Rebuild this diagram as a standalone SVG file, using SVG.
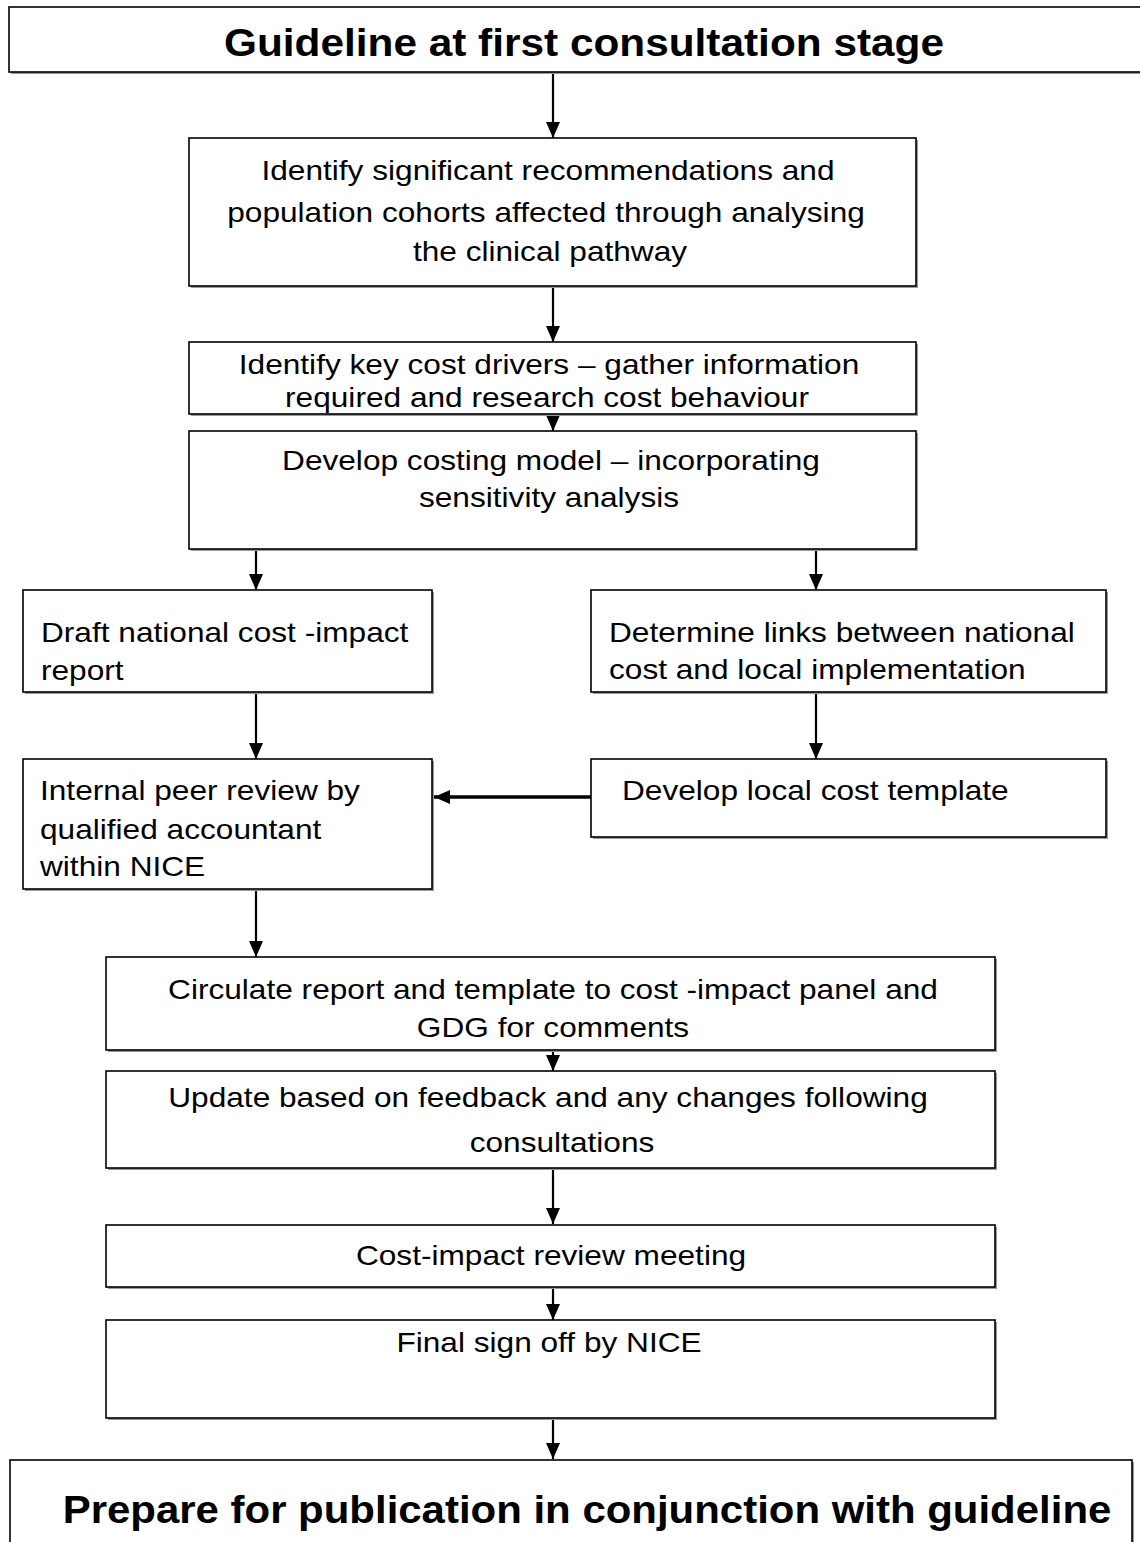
<svg xmlns="http://www.w3.org/2000/svg" width="1140" height="1542" viewBox="0 0 1140 1542">
<defs>
<style>
.box{fill:#fff;stroke:#000;stroke-width:1.6}
.sh{fill:#9a9a9a}
.t{font-family:"Liberation Sans",Arial,sans-serif;font-size:28px;fill:#000}
.c{text-anchor:middle}
.h{font-family:"Liberation Sans",Arial,sans-serif;font-size:38.5px;font-weight:bold;fill:#000;text-anchor:middle}
.ln{stroke:#000;stroke-width:2.2;fill:none}
.lnt{stroke:#000;stroke-width:3.5;fill:none}
</style>
<marker id="ah" viewBox="0 0 16 14" refX="16" refY="7" markerWidth="16" markerHeight="14" orient="auto" markerUnits="userSpaceOnUse">
<path d="M0,0 L16,7 L0,14 z" fill="#000"/>
</marker>
</defs>
<rect width="1140" height="1542" fill="#fff"/>

<g id="connectors">
<line class="ln" x1="553" y1="72" x2="553" y2="138" marker-end="url(#ah)"/>
<line class="ln" x1="553" y1="286" x2="553" y2="342" marker-end="url(#ah)"/>
<line class="ln" x1="553" y1="414" x2="553" y2="431" marker-end="url(#ah)"/>
<line class="ln" x1="256" y1="549" x2="256" y2="590" marker-end="url(#ah)"/>
<line class="ln" x1="816" y1="549" x2="816" y2="590" marker-end="url(#ah)"/>
<line class="ln" x1="256" y1="692" x2="256" y2="759" marker-end="url(#ah)"/>
<line class="ln" x1="816" y1="692" x2="816" y2="759" marker-end="url(#ah)"/>
<line class="lnt" x1="591" y1="797" x2="434" y2="797" marker-end="url(#ah)"/>
<line class="ln" x1="256" y1="889" x2="256" y2="957" marker-end="url(#ah)"/>
<line class="ln" x1="553" y1="1050" x2="553" y2="1071" marker-end="url(#ah)"/>
<line class="ln" x1="553" y1="1168" x2="553" y2="1224" marker-end="url(#ah)"/>
<line class="ln" x1="553" y1="1287" x2="553" y2="1320" marker-end="url(#ah)"/>
<line class="ln" x1="553" y1="1418" x2="553" y2="1459" marker-end="url(#ah)"/>
</g>

<g id="n1">
<rect class="sh" x="11" y="9" width="1141" height="65"/>
<rect class="box" x="9" y="7" width="1141" height="65"/>
<text class="h" transform="matrix(1.1 0 0 1 584 56)">Guideline at first consultation stage</text>
</g>

<g id="n2">
<rect class="sh" x="191" y="140" width="727" height="148"/>
<rect class="box" x="189" y="138" width="727" height="148"/>
<text class="t c" transform="matrix(1.13 0 0 1 548 180)">Identify significant recommendations and</text>
<text class="t c" transform="matrix(1.13 0 0 1 546 222)">population cohorts affected through analysing</text>
<text class="t c" transform="matrix(1.13 0 0 1 550 261)">the clinical pathway</text>
</g>

<g id="n3">
<rect class="sh" x="191" y="344" width="727" height="72"/>
<rect class="box" x="189" y="342" width="727" height="72"/>
<text class="t c" transform="matrix(1.13 0 0 1 549 374)">Identify key cost drivers  – gather information</text>
<text class="t c" transform="matrix(1.13 0 0 1 547 407)">required and research cost behaviour</text>
</g>

<g id="n4">
<rect class="sh" x="191" y="433" width="727" height="118"/>
<rect class="box" x="189" y="431" width="727" height="118"/>
<text class="t c" transform="matrix(1.13 0 0 1 551 470)">Develop costing model  – incorporating</text>
<text class="t c" transform="matrix(1.13 0 0 1 549 507)">sensitivity analysis</text>
</g>

<g id="n5">
<rect class="sh" x="25" y="592" width="409" height="102"/>
<rect class="box" x="23" y="590" width="409" height="102"/>
<text class="t" transform="matrix(1.13 0 0 1 41 642)">Draft national cost -impact</text>
<text class="t" transform="matrix(1.13 0 0 1 41 680)">report</text>
</g>

<g id="n6">
<rect class="sh" x="593" y="592" width="515" height="102"/>
<rect class="box" x="591" y="590" width="515" height="102"/>
<text class="t" transform="matrix(1.13 0 0 1 609 642)">Determine links between national</text>
<text class="t" transform="matrix(1.13 0 0 1 609 679)">cost and local implementation</text>
</g>

<g id="n7">
<rect class="sh" x="25" y="761" width="409" height="130"/>
<rect class="box" x="23" y="759" width="409" height="130"/>
<text class="t" transform="matrix(1.13 0 0 1 40 800)">Internal peer review by</text>
<text class="t" transform="matrix(1.13 0 0 1 40 839)">qualified accountant</text>
<text class="t" transform="matrix(1.13 0 0 1 40 876)">within NICE</text>
</g>

<g id="n8">
<rect class="sh" x="593" y="761" width="515" height="78"/>
<rect class="box" x="591" y="759" width="515" height="78"/>
<text class="t" transform="matrix(1.13 0 0 1 622 800)">Develop local cost template</text>
</g>

<g id="n9">
<rect class="sh" x="108" y="959" width="889" height="93"/>
<rect class="box" x="106" y="957" width="889" height="93"/>
<text class="t c" transform="matrix(1.13 0 0 1 553 999)">Circulate report and template to cost -impact panel and</text>
<text class="t c" transform="matrix(1.13 0 0 1 553 1037)">GDG for comments</text>
</g>

<g id="n10">
<rect class="sh" x="108" y="1073" width="889" height="97"/>
<rect class="box" x="106" y="1071" width="889" height="97"/>
<text class="t c" transform="matrix(1.13 0 0 1 548 1107)">Update based on feedback and any changes following</text>
<text class="t c" transform="matrix(1.13 0 0 1 562 1152)">consultations</text>
</g>

<g id="n11">
<rect class="sh" x="108" y="1227" width="889" height="62"/>
<rect class="box" x="106" y="1225" width="889" height="62"/>
<text class="t c" transform="matrix(1.13 0 0 1 551 1265)">Cost-impact review meeting</text>
</g>

<g id="n12">
<rect class="sh" x="108" y="1322" width="889" height="98"/>
<rect class="box" x="106" y="1320" width="889" height="98"/>
<text class="t c" transform="matrix(1.13 0 0 1 549 1352)">Final sign off by NICE</text>
</g>

<g id="n13">
<rect class="sh" x="12" y="1462" width="1122" height="100"/>
<rect class="box" x="10" y="1460" width="1122" height="100"/>
<text class="h" transform="matrix(1.09 0 0 1 587 1523)">Prepare for publication in conjunction with guideline</text>
</g>
</svg>
